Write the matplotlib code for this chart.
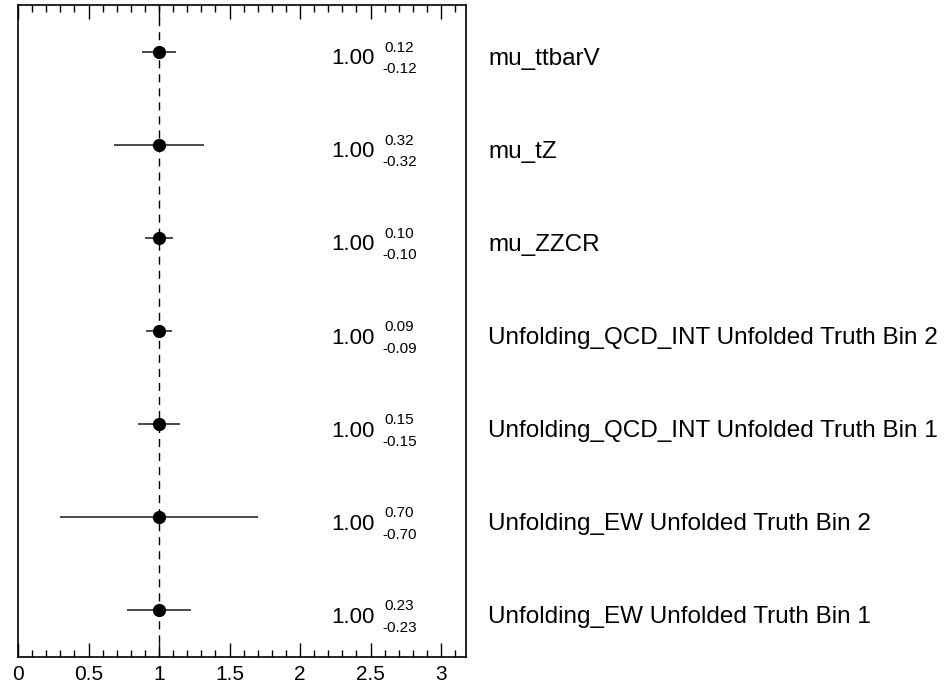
import matplotlib
matplotlib.use("Agg")
import matplotlib.pyplot as plt
from matplotlib.ticker import MultipleLocator

labels = ["mu_ttbarV", "mu_tZ", "mu_ZZCR",
          "Unfolding_QCD_INT Unfolded Truth Bin 2",
          "Unfolding_QCD_INT Unfolded Truth Bin 1",
          "Unfolding_EW Unfolded Truth Bin 2",
          "Unfolding_EW Unfolded Truth Bin 1"]
values = [1.00, 1.00, 1.00, 1.00, 1.00, 1.00, 1.00]
err_up = [0.12, 0.32, 0.10, 0.09, 0.15, 0.70, 0.23]
err_dn = [0.12, 0.32, 0.10, 0.09, 0.15, 0.70, 0.23]
xticks = [0, 0.5, 1, 1.5, 2, 2.5, 3]
xtick_labels = ["0", "0.5", "1", "1.5", "2", "2.5", "3"]

plt.rcParams['font.family'] = ['Liberation Sans', 'DejaVu Sans']

fig = plt.figure(figsize=(9.45, 6.87), dpi=100)
ax = fig.add_axes([18/945, 1-657/687, (466-18)/945, (657-5)/687])

n = len(labels)
ys = [n - 0.5 - i for i in range(n)]

ax.axvline(1.0, color='black', linestyle=(0, (5.8, 4.3)), linewidth=1.0, zorder=1)
ax.errorbar(values, ys, xerr=[err_dn, err_up], fmt='o', color='black',
            ecolor='#3a3a3a', elinewidth=1.3, markersize=8.5, capsize=0, zorder=3)

for v, y, lab, up, dn in zip(values, ys, labels, err_up, err_dn):
    ax.annotate(f"{v:.2f}", xy=(2.22, y), xytext=(0, -9), textcoords='offset points',
                ha='left', va='baseline', fontsize=16, annotation_clip=False)
    ax.annotate(f"{up:.2f}", xy=(2.60, y), xytext=(0, 0), textcoords='offset points',
                ha='left', va='baseline', fontsize=11, annotation_clip=False)
    ax.annotate(f"-{dn:.2f}", xy=(2.585, y), xytext=(0, -15.5), textcoords='offset points',
                ha='left', va='baseline', fontsize=11, annotation_clip=False)
    ax.annotate(lab, xy=(3.333, y), xytext=(0, -9.4), textcoords='offset points',
                ha='left', va='baseline', fontsize=17.5, annotation_clip=False)

ax.set_xlim(0, 3.177)
ax.set_ylim(0, n)
ax.xaxis.set_minor_locator(MultipleLocator(0.1))
ax.set_xticks(xticks)
ax.set_xticklabels(xtick_labels)
ax.tick_params(axis='x', which='major', direction='in', length=10, width=1.0,
               top=True, labelsize=15, pad=6)
ax.tick_params(axis='x', which='minor', direction='in', length=5, width=1.0, top=True)
ax.set_yticks([])
for s in ax.spines.values():
    s.set_linewidth(1.2)

fig.savefig("out.png", dpi=100)
